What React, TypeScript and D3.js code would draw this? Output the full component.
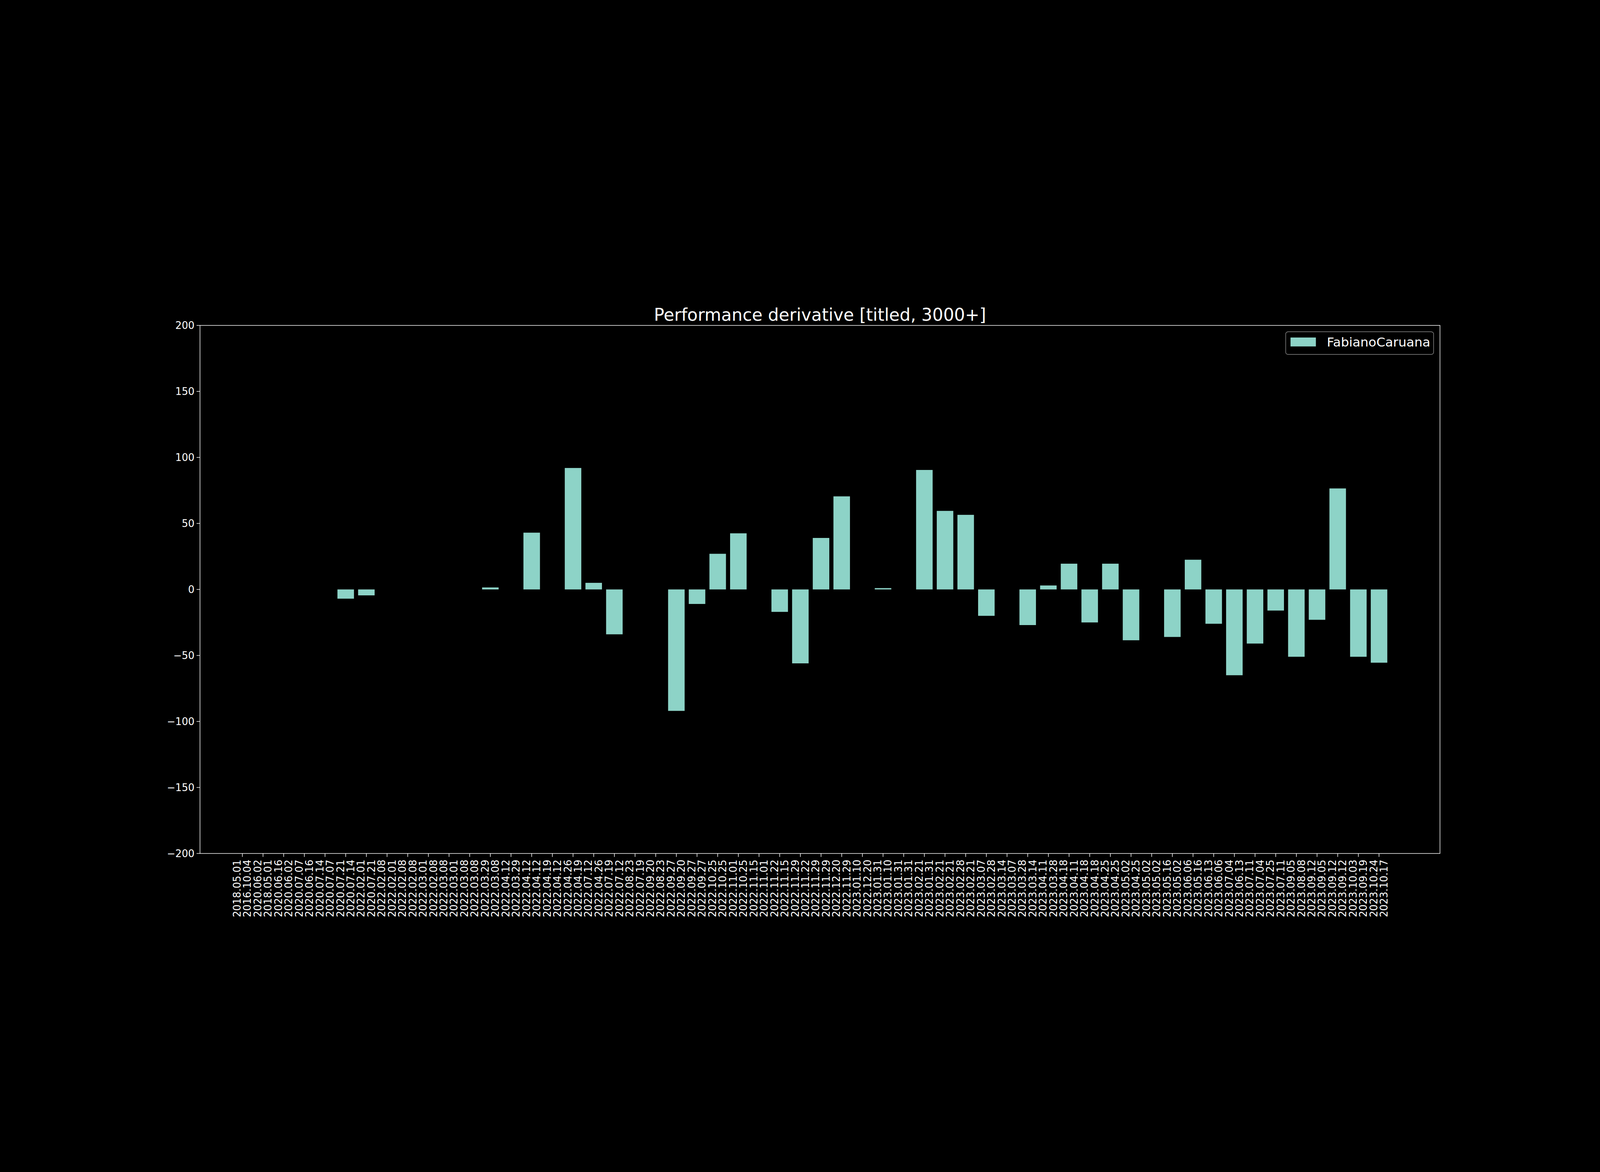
import React, { useEffect, useRef } from 'react'
import * as d3 from 'd3'

// each tick carries two dates: [current, previous]
const tickDates: [string, string][] = [
  ['2018.05.01', '2016.10.04'], ['2020.06.02', '2018.05.01'], ['2020.06.16', '2020.06.02'],
  ['2020.07.07', '2020.06.16'], ['2020.07.14', '2020.07.07'], ['2020.07.21', '2020.07.14'],
  ['2022.02.01', '2020.07.21'], ['2022.02.08', '2022.02.01'], ['2022.02.08', '2022.02.08'],
  ['2022.03.01', '2022.02.08'], ['2022.03.08', '2022.03.01'], ['2022.03.08', '2022.03.08'],
  ['2022.03.29', '2022.03.08'], ['2022.04.12', '2022.03.29'], ['2022.04.12', '2022.04.12'],
  ['2022.04.19', '2022.04.12'], ['2022.04.26', '2022.04.19'], ['2022.07.12', '2022.04.26'],
  ['2022.07.19', '2022.07.12'], ['2022.08.23', '2022.07.19'], ['2022.09.20', '2022.08.23'],
  ['2022.09.27', '2022.09.20'], ['2022.09.27', '2022.09.27'], ['2022.10.25', '2022.10.25'],
  ['2022.11.01', '2022.10.25'], ['2022.11.15', '2022.11.01'], ['2022.11.22', '2022.11.15'],
  ['2022.11.29', '2022.11.22'], ['2022.11.29', '2022.11.29'], ['2022.12.20', '2022.11.29'],
  ['2023.01.10', '2022.12.20'], ['2023.01.31', '2023.01.10'], ['2023.01.31', '2023.01.31'],
  ['2023.02.21', '2023.01.31'], ['2023.02.21', '2023.02.21'], ['2023.02.28', '2023.02.21'],
  ['2023.03.07', '2023.02.28'], ['2023.03.14', '2023.03.07'], ['2023.03.28', '2023.03.14'],
  ['2023.04.11', '2023.03.28'], ['2023.04.18', '2023.04.11'], ['2023.04.18', '2023.04.18'],
  ['2023.04.25', '2023.04.25'], ['2023.05.02', '2023.04.25'], ['2023.05.02', '2023.05.02'],
  ['2023.05.16', '2023.05.02'], ['2023.06.06', '2023.05.16'], ['2023.06.13', '2023.06.06'],
  ['2023.07.04', '2023.06.13'], ['2023.07.11', '2023.07.04'], ['2023.07.25', '2023.07.11'],
  ['2023.09.05', '2023.08.08'], ['2023.09.12', '2023.09.05'], ['2023.09.12', '2023.09.12'],
  ['2023.10.03', '2023.09.19'], ['2023.10.24', '2023.10.17'],
]

// null = no bar drawn
const values: (number | null)[] = [
  null, null, null, null, null, -7, -4.5, null, null, null,
  null, null, 1.5, null, 43, null, 92, 5, -34, null,
  null, -92, -11, 27, 42.5, null, -17, -56, 39, 70.5,
  null, 1, null, 90.5, 59.5, 56.5, -20, null, -27, 3,
  19.5, -25, 19.5, -38.5, null, -36, 22.5, -26, -65, -41,
  -16, -51, -23, 76.5, -51, -55.5,
]

const yTicks = [-200, -150, -100, -50, 0, 50, 100, 150, 200]
const seriesName = 'FabianoCaruana'
const title = 'Performance derivative [titled, 3000+]'

const W = 7000, H = 3000
const L = 875, R = 6300, T = 360, B = 2670
const barColor = '#8dd3c7'
const font = 'DejaVu Sans'

export default function App() {
  const ref = useRef<SVGSVGElement>(null)

  useEffect(() => {
    const svg = d3.select(ref.current)
    svg.selectAll('*').remove()

    const x = d3.scaleLinear().domain([-2.05, 57.95]).range([L, R])
    const y = d3.scaleLinear().domain([-200, 200]).range([B, T])
    const bw = x(0.8) - x(0)

    svg.append('rect').attr('width', W).attr('height', H).attr('fill', '#000')

    const bars = values.map((v, i) => ({ v, i })).filter(d => d.v !== null) as { v: number; i: number }[]
    svg.append('g').selectAll('rect').data(bars).join('rect')
      .attr('x', d => x(d.i) - bw / 2)
      .attr('width', bw)
      .attr('y', d => y(Math.max(0, d.v)))
      .attr('height', d => Math.abs(y(d.v) - y(0)))
      .attr('fill', barColor)

    svg.append('rect').attr('x', L).attr('y', T).attr('width', R - L).attr('height', B - T)
      .attr('fill', 'none').attr('stroke', '#fff').attr('stroke-width', 2.5)

    // y axis
    const ya = svg.append('g')
    yTicks.forEach(t => {
      ya.append('line').attr('x1', L - 15).attr('x2', L).attr('y1', y(t)).attr('y2', y(t))
        .attr('stroke', '#fff').attr('stroke-width', 2.5)
      ya.append('text').attr('x', L - 24).attr('y', y(t)).attr('dy', '0.35em')
        .attr('text-anchor', 'end').attr('fill', '#fff').attr('font-family', font).attr('font-size', 44)
        .text(t === 0 ? '0' : t < 0 ? `\u2212${-t}` : String(t))
    })

    // x axis
    const xa = svg.append('g')
    tickDates.forEach((pair, i) => {
      const cx = x(i)
      xa.append('line').attr('x1', cx).attr('x2', cx).attr('y1', B).attr('y2', B + 15)
        .attr('stroke', '#fff').attr('stroke-width', 2.5)
      const t = xa.append('text').attr('transform', `translate(${cx},${B + 27}) rotate(-90)`)
        .attr('text-anchor', 'end').attr('fill', '#fff').attr('font-family', font).attr('font-size', 44)
      t.append('tspan').attr('x', 0).attr('y', -23).attr('dy', '0.35em').text(pair[0])
      t.append('tspan').attr('x', 0).attr('y', 22).attr('dy', '0.35em').text(pair[1])
    })

    svg.append('text').attr('x', (L + R) / 2).attr('y', 340).attr('text-anchor', 'middle')
      .attr('fill', '#fff').attr('font-family', font).attr('font-size', 75).text(title)

    // legend
    const lg = svg.append('g')
    lg.append('rect').attr('x', 5625).attr('y', 388).attr('width', 647).attr('height', 99).attr('rx', 10)
      .attr('fill', '#000').attr('stroke', '#888').attr('stroke-width', 2.5)
    lg.append('rect').attr('x', 5646).attr('y', 413).attr('width', 111).attr('height', 39).attr('fill', barColor)
    lg.append('text').attr('x', 5805).attr('y', 432).attr('dy', '0.35em').attr('fill', '#fff')
      .attr('font-family', font).attr('font-size', 56).text(seriesName)
  }, [])

  return (
    <svg
      ref={ref}
      viewBox={`0 0 ${W} ${H}`}
      preserveAspectRatio="xMidYMid meet"
      style={{ position: 'fixed', left: 0, top: 0, width: '100vw', height: '100vh', background: '#000' }}
    />
  )
}
